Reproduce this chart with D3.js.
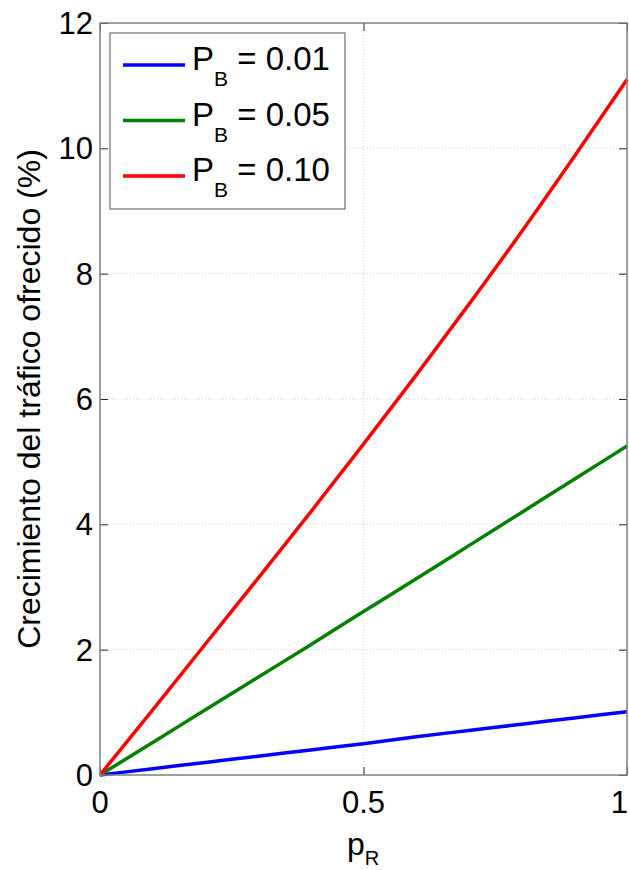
<!DOCTYPE html>
<html>
<head>
<meta charset="utf-8">
<script src="https://cdn.jsdelivr.net/npm/d3@7/dist/d3.min.js"></script>
<style>
  html, body { margin: 0; padding: 0; background: #fff; }
  svg { display: block; }
  text { font-family: "Liberation Sans", Arial, sans-serif; fill: #000; }
</style>
</head>
<body>
<svg id="chart" width="629" height="870"></svg>
<script>
// ---- data ----
const pR = [0, 0.1, 0.2, 0.3, 0.4, 0.5, 0.6, 0.7, 0.8, 0.9, 1.0];
const seriesNames = ["0.01", "0.05", "0.10"];
const seriesColors = ["#0000ff", "#008000", "#ff0000"];
const growthPB001 = [0, 0.10, 0.20, 0.30, 0.40, 0.50, 0.61, 0.71, 0.81, 0.91, 1.01];
const growthPB005 = [0, 0.52, 1.04, 1.56, 2.08, 2.61, 3.13, 3.66, 4.19, 4.72, 5.25];
const growthPB010 = [0, 1.04, 2.09, 3.14, 4.20, 5.28, 6.38, 7.51, 8.67, 9.87, 11.10];
const xTicks = [0, 0.5, 1];
const xTickLabels = ["0", "0.5", "1"];
const yTicks = [0, 2, 4, 6, 8, 10, 12];
const yTickLabels = ["0", "2", "4", "6", "8", "10", "12"];
const xLabel = "p";
const xLabelSub = "R";
const yLabelText = "Crecimiento del tráfico ofrecido (%)";

const seriesValues = [growthPB001, growthPB005, growthPB010];

// ---- layout ----
const svg = d3.select("#chart");
const L = 100, R = 627, T = 23, B = 775;
const x = d3.scaleLinear().domain([0, 1]).range([L, R]);
const y = d3.scaleLinear().domain([0, 12]).range([B, T]);

// grid
const grid = svg.append("g");
grid.selectAll("line.gy").data(yTicks.slice(1, -1)).enter().append("line")
  .attr("x1", L).attr("x2", R).attr("y1", d => y(d)).attr("y2", d => y(d))
  .attr("stroke", "#d4d4d4").attr("stroke-width", 1).attr("stroke-dasharray", "1,2");
grid.selectAll("line.gx").data(xTicks.slice(1, -1)).enter().append("line")
  .attr("y1", T).attr("y2", B).attr("x1", d => x(d)).attr("x2", d => x(d))
  .attr("stroke", "#d4d4d4").attr("stroke-width", 1).attr("stroke-dasharray", "1,2");

// axes (ticks inward, both sides)
const tickLen = 8;
const axL = svg.append("g").attr("transform", `translate(${L},0)`)
  .call(d3.axisRight(y).tickValues(yTicks).tickSize(tickLen).tickFormat(""));
const axR = svg.append("g").attr("transform", `translate(${R},0)`)
  .call(d3.axisLeft(y).tickValues(yTicks).tickSize(tickLen).tickFormat(""));
const axB = svg.append("g").attr("transform", `translate(0,${B})`)
  .call(d3.axisTop(x).tickValues(xTicks).tickSize(tickLen).tickFormat(""));
const axT = svg.append("g").attr("transform", `translate(0,${T})`)
  .call(d3.axisBottom(x).tickValues(xTicks).tickSize(tickLen).tickFormat(""));
[axL, axR, axB, axT].forEach(a => {
  a.select(".domain").remove();
  a.selectAll(".tick line").attr("stroke", "#262626").attr("stroke-width", 1);
});

// tick labels
svg.append("g").selectAll("text").data(yTicks).enter().append("text")
  .attr("x", 93).attr("y", d => y(d)).attr("dy", "0.36em")
  .attr("text-anchor", "end").attr("font-size", 31)
  .text((d, i) => yTickLabels[i]);
svg.append("g").selectAll("text").data(xTicks).enter().append("text")
  .attr("x", (d, i) => i === xTicks.length - 1 ? 628 : x(d)).attr("y", 813)
  .attr("text-anchor", (d, i) => i === xTicks.length - 1 ? "end" : "middle")
  .attr("font-size", 31)
  .text((d, i) => xTickLabels[i]);

// lines
const line = d3.line().x((d, i) => x(pR[i])).y(d => y(d)).curve(d3.curveMonotoneX);
svg.append("g").selectAll("path").data(seriesValues).enter().append("path")
  .attr("d", d => line(d)).attr("fill", "none")
  .attr("stroke", (d, i) => seriesColors[i]).attr("stroke-width", 3.5)
  .attr("stroke-linejoin", "round");

// frame
svg.append("rect").attr("x", L).attr("y", T).attr("width", R - L).attr("height", B - T)
  .attr("fill", "none").attr("stroke", "#7f7f7f").attr("stroke-width", 1.5);

// axis labels
const xl = svg.append("text").attr("x", 363).attr("y", 855)
  .attr("text-anchor", "middle").attr("font-size", 32);
xl.append("tspan").text(xLabel);
xl.append("tspan").attr("font-size", 20).attr("dy", 10).text(xLabelSub);

svg.append("text")
  .attr("transform", `translate(40,${(T + B) / 2}) rotate(-90)`)
  .attr("text-anchor", "middle").attr("font-size", 32)
  .text(yLabelText);

// legend
const lg = svg.append("g");
lg.append("rect").attr("x", 110).attr("y", 33).attr("width", 235).attr("height", 176)
  .attr("fill", "#fff").attr("stroke", "#6e6e6e").attr("stroke-width", 1.2);
const rowY = [65, 120.5, 176];
seriesNames.forEach((name, i) => {
  lg.append("line").attr("x1", 123).attr("x2", 185).attr("y1", rowY[i]).attr("y2", rowY[i])
    .attr("stroke", seriesColors[i]).attr("stroke-width", 3.5);
  const t = lg.append("text").attr("x", 192).attr("y", rowY[i] + 5).attr("font-size", 33);
  t.append("tspan").text("P");
  t.append("tspan").attr("font-size", 21).attr("dy", 16).text("B");
  t.append("tspan").attr("dy", -16).text(" = " + name);
});
</script>
</body>
</html>
